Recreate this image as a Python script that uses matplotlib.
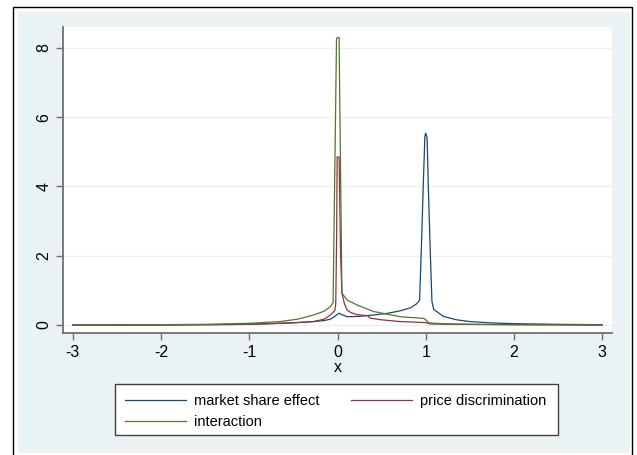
import matplotlib
matplotlib.use("Agg")
import matplotlib.pyplot as plt
from matplotlib.patches import Rectangle

plt.rcParams["font.family"] = ["Liberation Sans", "DejaVu Sans"]
plt.rcParams["axes.unicode_minus"] = False

# market share effect (blue)
x_share = [-3.0, -2.5, -2.0, -1.5, -1.0, -0.65, -0.45, -0.27, -0.15, -0.08, -0.03, 0.015,
           0.05, 0.11, 0.25, 0.41, 0.55, 0.71, 0.83, 0.9, 0.93, 0.95, 0.97, 0.99, 1.0,
           1.015, 1.03, 1.05, 1.07, 1.09, 1.2, 1.35, 1.5, 1.75, 2.0, 2.5, 3.0]
y_share = [0.0, 0.0, 0.005, 0.01, 0.02, 0.05, 0.07, 0.1, 0.13, 0.17, 0.25, 0.34,
           0.3, 0.24, 0.25, 0.29, 0.33, 0.41, 0.5, 0.62, 0.72, 2.2, 3.9, 5.45, 5.54,
           5.4, 3.9, 2.2, 0.68, 0.45, 0.25, 0.15, 0.1, 0.06, 0.04, 0.02, 0.01]

# price discrimination (red)
x_price = [-3.0, -2.0, -1.5, -1.0, -0.65, -0.4, -0.27, -0.15, -0.08, -0.03, -0.02, -0.01,
           -0.004, 0.018, 0.035, 0.05, 0.08, 0.11, 0.15, 0.22, 0.3, 0.34, 0.37, 0.5,
           0.71, 0.9, 1.0, 1.05, 1.3, 1.6, 2.0, 2.5, 3.0]
y_price = [0.0, 0.0, 0.01, 0.02, 0.05, 0.08, 0.1, 0.17, 0.29, 0.42, 0.6, 2.5,
           4.85, 4.85, 2.0, 0.92, 0.6, 0.43, 0.36, 0.3, 0.28, 0.27, 0.2, 0.15,
           0.1, 0.08, 0.07, 0.03, 0.02, 0.015, 0.01, 0.005, 0.0]

# interaction (green)
x_inter = [-3.0, -2.5, -2.0, -1.5, -1.0, -0.65, -0.45, -0.27, -0.15, -0.08, -0.05, -0.011,
           0.018, 0.05, 0.11, 0.22, 0.41, 0.71, 0.98, 1.0, 1.03, 1.1, 1.3, 1.6, 2.0,
           2.5, 3.0]
y_inter = [0.0, 0.0, 0.01, 0.02, 0.05, 0.1, 0.17, 0.29, 0.4, 0.53, 0.65, 8.28,
           8.3, 0.92, 0.72, 0.58, 0.39, 0.24, 0.19, 0.15, 0.07, 0.05, 0.03, 0.02, 0.01,
           0.005, 0.0]

x_ticks = [-3, -2, -1, 0, 1, 2, 3]
y_ticks = [0, 2, 4, 6, 8]

W, H = 637, 455
fig = plt.figure(figsize=(W / 100, H / 100), dpi=100, facecolor="white")

# graph region (Stata s2color look), kept behind the axes
fig.patches.append(Rectangle((18 / W, 1 - 453 / H), (630 - 18) / W, (453 - 12) / H,
                             transform=fig.transFigure, facecolor="#eaf2f3",
                             edgecolor="none", zorder=-2))
fig.patches.append(Rectangle((13 / W, -0.05), (632 - 13) / W, 1.05 - 7 / H,
                             transform=fig.transFigure, facecolor="none",
                             edgecolor="black", linewidth=1, zorder=-1))

ax = fig.add_axes([63 / W, 1 - 333 / H, (612 - 63) / W, (333 - 27) / H])
ax.set_facecolor("white")

l1, = ax.plot(x_share, y_share, color="#1a476f", lw=0.9, label="market share effect")
l2, = ax.plot(x_price, y_price, color="#90353b", lw=0.9, label="price discrimination")
l3, = ax.plot(x_inter, y_inter, color="#55752f", lw=0.9, label="interaction")

ax.set_xlim(-3.11, 3.11)
ax.set_ylim(-0.23, 8.6)
ax.set_xticks(x_ticks)
ax.set_yticks(y_ticks)
ax.set_yticklabels([str(v) for v in y_ticks], rotation=90, va="center")
ax.grid(axis="y", color="#eaf2f3", lw=1)
ax.set_axisbelow(True)

for s in ["top", "right"]:
    ax.spines[s].set_visible(False)
for s in ["left", "bottom"]:
    ax.spines[s].set_color("#707070")
    ax.spines[s].set_linewidth(1.3)
ax.tick_params(length=5, width=1, color="#707070", labelsize=11.5, pad=3.5)
ax.set_xlabel("x", fontsize=11.5, labelpad=0)

# legend frame drawn by hand, entries from the plotted lines
fig.patches.append(Rectangle((115 / W, 1 - 435 / H), (558 - 115) / W, (435 - 384) / H,
                             transform=fig.transFigure, facecolor="white",
                             edgecolor="#404040", linewidth=1, zorder=2))
leg = fig.legend([l1, l3, l2], [l1.get_label(), l3.get_label(), l2.get_label()],
                 loc="upper left", bbox_to_anchor=(115 / W, 1 - 384 / H),
                 ncol=2, frameon=False, fontsize=10.5, handlelength=4.2,
                 handletextpad=0.55, columnspacing=2.1, borderpad=0.7,
                 labelspacing=0.45, borderaxespad=0)
leg.set_zorder(3)

fig.savefig("out.png", dpi=100)
